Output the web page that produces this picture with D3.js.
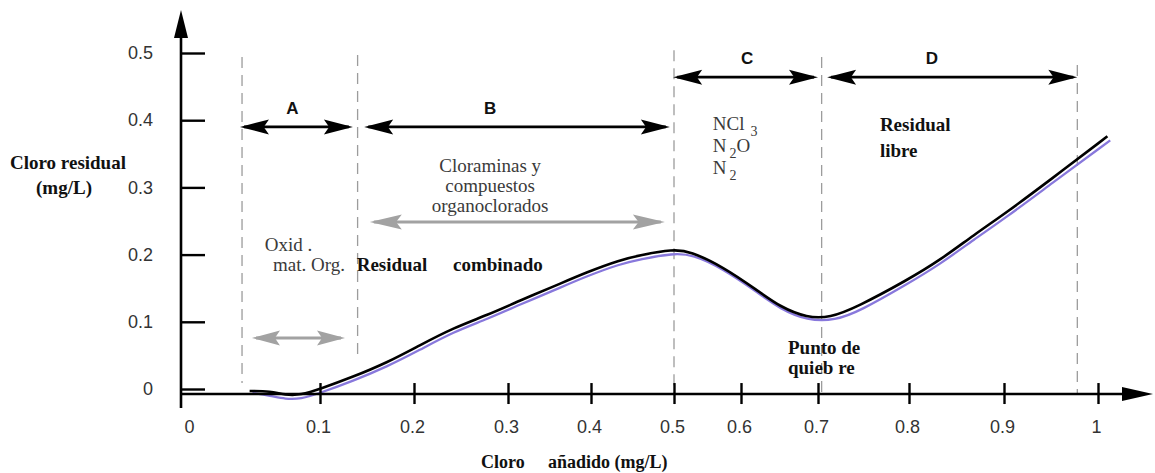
<!DOCTYPE html>
<html><head><meta charset="utf-8">
<script src="https://cdn.jsdelivr.net/npm/d3@7"></script>
<style>body{margin:0;background:#fff}svg{display:block}</style>
</head><body><svg id="c" width="1155" height="473"></svg>
<script>
// ---------------- DATA ----------------
const xTicks = [0, 0.1, 0.2, 0.3, 0.4, 0.5, 0.6, 0.7, 0.8, 0.9, 1];
const xTickLabels = ["0", "0.1", "0.2", "0.3", "0.4", "0.5", "0.6", "0.7", "0.8", "0.9", "1"];
const yTicks = [0, 0.1, 0.2, 0.3, 0.4, 0.5];
const yTickLabels = ["0", "0.1", "0.2", "0.3", "0.4", "0.5"];

// black curve: chlorine added (mg/L) vs residual chlorine (mg/L)
const addedBlack = [0.049, 0.064, 0.075, 0.086, 0.100, 0.135, 0.171, 0.206, 0.242, 0.278, 0.315, 0.354, 0.395, 0.435, 0.459, 0.499, 0.524, 0.573, 0.621, 0.651, 0.686, 0.713, 0.743, 0.798, 0.833, 0.868, 0.903, 0.949, 1.010];
const residualBlack = [-0.003, -0.003, -0.009, -0.009, 0.000, 0.018, 0.039, 0.065, 0.091, 0.110, 0.132, 0.152, 0.174, 0.192, 0.199, 0.208, 0.205, 0.182, 0.147, 0.122, 0.106, 0.106, 0.122, 0.162, 0.192, 0.229, 0.263, 0.311, 0.376];
// purple curve
const addedPurple = [0.051, 0.064, 0.075, 0.086, 0.100, 0.135, 0.171, 0.206, 0.242, 0.278, 0.315, 0.354, 0.395, 0.435, 0.459, 0.499, 0.528, 0.573, 0.621, 0.651, 0.686, 0.719, 0.746, 0.798, 0.833, 0.868, 0.903, 0.949, 1.013];
const residualPurple = [-0.006, -0.010, -0.015, -0.015, -0.006, 0.012, 0.033, 0.058, 0.085, 0.104, 0.126, 0.146, 0.168, 0.186, 0.193, 0.202, 0.200, 0.179, 0.144, 0.119, 0.102, 0.102, 0.116, 0.156, 0.186, 0.222, 0.256, 0.304, 0.370];

// zones
const zoneBounds = [0.0435, 0.140, 0.500, 0.704, 0.978];
const zoneBoundTop = [0.494, 0.497, 0.504, 0.494, 0.482];
const zoneBoundBottom = [0.009, 0.048, -0.007, -0.007, -0.007];
const zoneNames = ["A", "B", "C", "D"];
const zoneArrowStart = [0.042, 0.147, 0.499, 0.710];
const zoneArrowEnd = [0.135, 0.495, 0.700, 0.978];
const zoneArrowLevel = [0.390, 0.390, 0.464, 0.464];
const zoneLabelX = [0.080, 0.281, 0.608, 0.824];
const zoneLabelY = [0.418, 0.418, 0.4926, 0.4926];

// grey process arrows
const greyArrowStart = [0.0507, 0.153];
const greyArrowEnd = [0.1266, 0.489];
const greyArrowLevel = [0.076, 0.2485];

// ---------------- LAYOUT ----------------
const svg = d3.select("#c");
const xStops = [182, 320, 414, 508, 591, 674, 741, 818, 909, 1004, 1098];
const x = d3.scaleLinear().domain(xTicks).range(xStops);
const y = d3.scaleLinear().domain([0, 0.5]).range([389, 53]);
const axisAt = -0.0075;           // value where the horizontal axis is drawn
const serif = "'Liberation Serif','Times New Roman',serif";
const sans = "'Liberation Sans',Arial,sans-serif";

// zone dashed boundaries
svg.append("g").selectAll("line").data(zoneBounds).join("line")
  .attr("x1", d => x(d)).attr("x2", d => x(d))
  .attr("y1", (d, i) => y(zoneBoundTop[i])).attr("y2", (d, i) => y(zoneBoundBottom[i]))
  .attr("stroke", "#9c9c9c").attr("stroke-width", 1.3).attr("stroke-dasharray", "11,7");

// arrowhead helper
function head(tx, ty, dir, L, H) {
  return `M${tx},${ty} L${tx - dir * L},${ty - H / 2} L${tx - dir * L * 0.82},${ty} L${tx - dir * L},${ty + H / 2} Z`;
}
function dblArrow(g, x1, x2, yy, color, L, H, w) {
  g.append("line").attr("x1", x1 + 4).attr("x2", x2 - 4).attr("y1", yy).attr("y2", yy)
    .attr("stroke", color).attr("stroke-width", w);
  g.append("path").attr("d", head(x1, yy, -1, L, H)).attr("fill", color);
  g.append("path").attr("d", head(x2, yy, 1, L, H)).attr("fill", color);
}

// zone arrows + labels
const gz = svg.append("g");
zoneNames.forEach((n, i) => {
  dblArrow(gz, x(zoneArrowStart[i]), x(zoneArrowEnd[i]), y(zoneArrowLevel[i]), "#000", 29, 15, 2.8);
  gz.append("text").attr("x", x(zoneLabelX[i])).attr("y", y(zoneLabelY[i])).attr("dy", "0.36em")
    .attr("text-anchor", "middle").attr("font-family", sans).attr("font-weight", "bold")
    .attr("font-size", 17).attr("fill", "#111").text(n);
});
greyArrowStart.forEach((s, i) => {
  dblArrow(gz, x(s), x(greyArrowEnd[i]), y(greyArrowLevel[i]), "#a2a2a2", i ? 32 : 28, 15, 3);
});

// curves
const line = d3.line().curve(d3.curveBasis);
svg.append("path")
  .attr("d", line(addedPurple.map((a, i) => [x(a), y(residualPurple[i])])))
  .attr("fill", "none").attr("stroke", "#8878dc").attr("stroke-width", 2.3);
svg.append("path")
  .attr("d", line(addedBlack.map((a, i) => [x(a), y(residualBlack[i])])))
  .attr("fill", "none").attr("stroke", "#000").attr("stroke-width", 2.6);

// axes
const gx = svg.append("g").attr("transform", `translate(0,${y(axisAt)})`)
  .call(d3.axisBottom(x).tickValues(xTicks).tickFormat((d, i) => xTickLabels[i]).tickSize(10).tickPadding(20));
gx.select(".domain").remove();
gx.selectAll(".tick line").attr("y1", -11).attr("y2", 10).attr("stroke-width", 2.4)
  .attr("opacity", d => d === 0 ? 0 : 1);
gx.selectAll(".tick text").attr("font-family", sans).attr("font-size", 18).attr("fill", "#333")
  .attr("dx", d => d === 0 ? 7 : -2).attr("dy", "0.5em");

const gy = svg.append("g").attr("transform", `translate(${x(0) - 1},0)`)
  .call(d3.axisLeft(y).tickValues(yTicks).tickFormat((d, i) => yTickLabels[i]).tickSize(-24).tickPadding(28));
gy.select(".domain").remove();
gy.selectAll(".tick line").attr("stroke-width", 2.4);
gy.selectAll(".tick text").attr("font-family", sans).attr("font-size", 18).attr("fill", "#333");

// axis lines with arrows
const ax0 = x(0) - 1, ay0 = y(axisAt);
svg.append("line").attr("x1", ax0).attr("x2", 1126).attr("y1", ay0).attr("y2", ay0)
  .attr("stroke", "#000").attr("stroke-width", 2.6);
svg.append("path").attr("d", `M1153,${ay0} L1122,${ay0 - 7} L1122,${ay0 + 7} Z`).attr("fill", "#000");
svg.append("line").attr("x1", ax0).attr("x2", ax0).attr("y1", ay0 + 14).attr("y2", 34)
  .attr("stroke", "#000").attr("stroke-width", 2.6);
svg.append("path").attr("d", `M${ax0},10 L${ax0 - 7},38 L${ax0 + 7},38 Z`).attr("fill", "#000");

// annotations
function txt(t, px, py, opts) {
  const e = svg.append("text").attr("x", px).attr("y", py).attr("dy", "0.35em")
    .attr("font-family", opts.ff || serif).attr("font-size", opts.fs || 19)
    .attr("font-weight", opts.fw || "normal").attr("fill", opts.fill || "#111")
    .attr("text-anchor", opts.anchor || "start");
  if (t !== null) e.text(t);
  return e;
}
const grey = "#3a3a3a";
// C zone species
let e = txt("NCl", x(0.558), y(0.396), {fill: grey});
e.append("tspan").attr("dx", 6).attr("dy", 6).attr("font-size", 14).text("3");
e = txt("N", x(0.558), y(0.363), {fill: grey});
e.append("tspan").attr("dx", 3).attr("dy", 6).attr("font-size", 14).text("2");
e.append("tspan").attr("dy", -6).text("O");
e = txt("N", x(0.558), y(0.330), {fill: grey});
e.append("tspan").attr("dx", 3).attr("dy", 6).attr("font-size", 14).text("2");

txt("Residual", x(0.768), y(0.394), {fw: "bold"});
txt("libre", x(0.768), y(0.3557), {fw: "bold"});
txt("Cloraminas y", x(0.281), y(0.333), {anchor: "middle", fill: grey});
txt("compuestos", x(0.281), y(0.3035), {anchor: "middle", fill: grey});
txt("organoclorados", x(0.281), y(0.274), {anchor: "middle", fill: grey});
txt("Oxid .", x(0.060), y(0.2158), {fill: grey});
txt("mat. Org.", x(0.066), y(0.186), {fill: grey});
txt("Residual", x(0.139), y(0.186), {fw: "bold"});
txt("combinado", x(0.2415), y(0.186), {fw: "bold"});
txt("Punto de", x(0.661), y(0.0625), {fw: "bold"});
txt("quieb re", x(0.661), y(0.0327), {fw: "bold"});

// axis titles
txt("Cloro residual", 68, 162, {fw: "bold", anchor: "middle"});
txt("(mg/L)", 64, 187, {fw: "bold", anchor: "middle"});
txt("Cloro", 481, 462, {fw: "bold", fs: 18});
txt("añadido (mg/L)", 548, 462, {fw: "bold", fs: 18});
</script></body></html>
